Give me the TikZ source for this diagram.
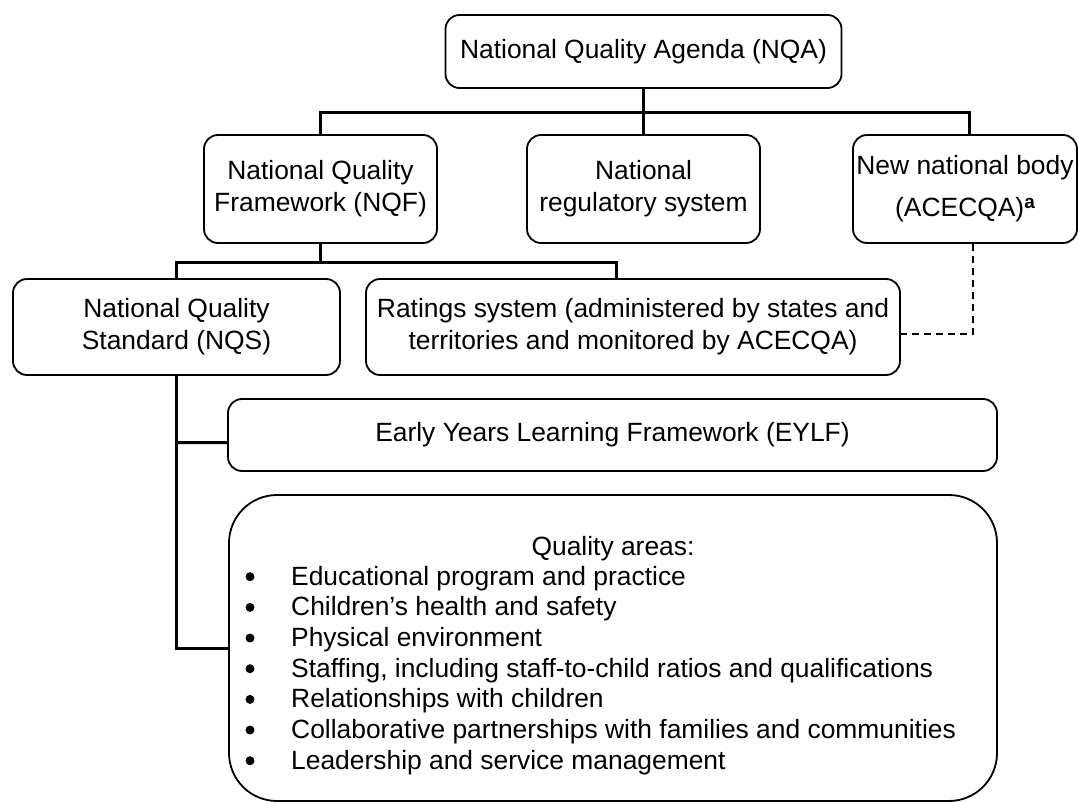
\documentclass[tikz,border=0pt]{standalone}
\usepackage{fontspec}
\setmainfont{Liberation Sans}
\usepackage{tikz}
\usetikzlibrary{calc}

\begin{document}
\begin{tikzpicture}[x=1bp,y=1bp,
  box/.style={rectangle, rounded corners=14bp, draw=black, line width=1.8bp, inner sep=0pt, align=center, font=\fontsize{26.4bp}{32bp}\selectfont},
  link/.style={-, line width=3bp},
  dashlink/.style={-, line width=2bp, dash pattern=on 7bp off 5bp}]
\useasboundingbox (0,0) rectangle (1078,-803);

\draw (643.5,-51.5) node[box, minimum width=396bp, minimum height=73bp] (nqa) {National Quality Agenda (NQA)};

\draw (320.5,-189) node[box, minimum width=233bp, minimum height=108bp] (nqf) {National Quality\\Framework (NQF)};
\draw (643.5,-189) node[box, minimum width=233bp, minimum height=108bp] (reg) {National\\regulatory system};
\draw (965,-189) node[box, minimum width=224bp, minimum height=108bp] (ace) {\raisebox{-6bp}{New national body}\\[10bp]\raisebox{-6bp}{(ACECQA)\raisebox{8bp}{\fontsize{19bp}{19bp}\selectfont\bfseries a}}};

\draw (176.5,-327) node[box, minimum width=327bp, minimum height=96bp] (nqs) {National Quality\\Standard (NQS)};
\draw (633,-327) node[box, minimum width=534bp, minimum height=96bp] (rat) {Ratings system (administered by states and\\territories and monitored by ACECQA)};

\draw (612.5,-435) node[box, minimum width=769bp, minimum height=72bp] (eylf) {Early Years Learning Framework (EYLF)};
\draw (613,-648) node[box, rounded corners=48bp, minimum width=768bp, minimum height=306bp] (qa) {};

\draw (613,-555) node[anchor=base, inner sep=0pt, font=\fontsize{26.4bp}{32bp}\selectfont] (qahead) {Quality areas:};
\foreach \txt [count=\i from 0] in {Educational program and practice, Children’s health and safety, Physical environment, {Staffing, including staff-to-child ratios and qualifications}, Relationships with children, Collaborative partnerships with families and communities, Leadership and service management}
{
\draw (250,{-576.7-30.67*\i}) node[circle, fill=black, minimum size=9bp, inner sep=0pt] (dot\i) {};
\draw (291,{-585-30.67*\i}) node[anchor=base west, inner sep=0pt, font=\fontsize{26.4bp}{32bp}\selectfont] (item\i) {\txt};
}

\draw[link] (nqa.south) -- ++(0,-23.5) coordinate (nqabar);
\draw[link] (nqabar) -| (nqf.north);
\draw[link] (nqabar) -- (reg.north);
\draw[link] (nqabar) -| ([xshift=4bp]ace.north);

\draw[link] (nqf.south) -- ++(0,-18.5) coordinate (nqfbar);
\draw[link] (nqfbar) -| (nqs.north);
\draw[link] (nqfbar) -| ([xshift=-17bp]rat.north);

\draw[link] (nqs.south) |- (qa.west);
\draw[link] (nqs.south |- {$(eylf.west)+(0,-7.5)$}) -- ([yshift=-7.5bp]eylf.west);

\draw[dashlink] ([xshift=8bp]ace.south) |- ([yshift=-7bp]rat.east);

\end{tikzpicture}
\end{document}
